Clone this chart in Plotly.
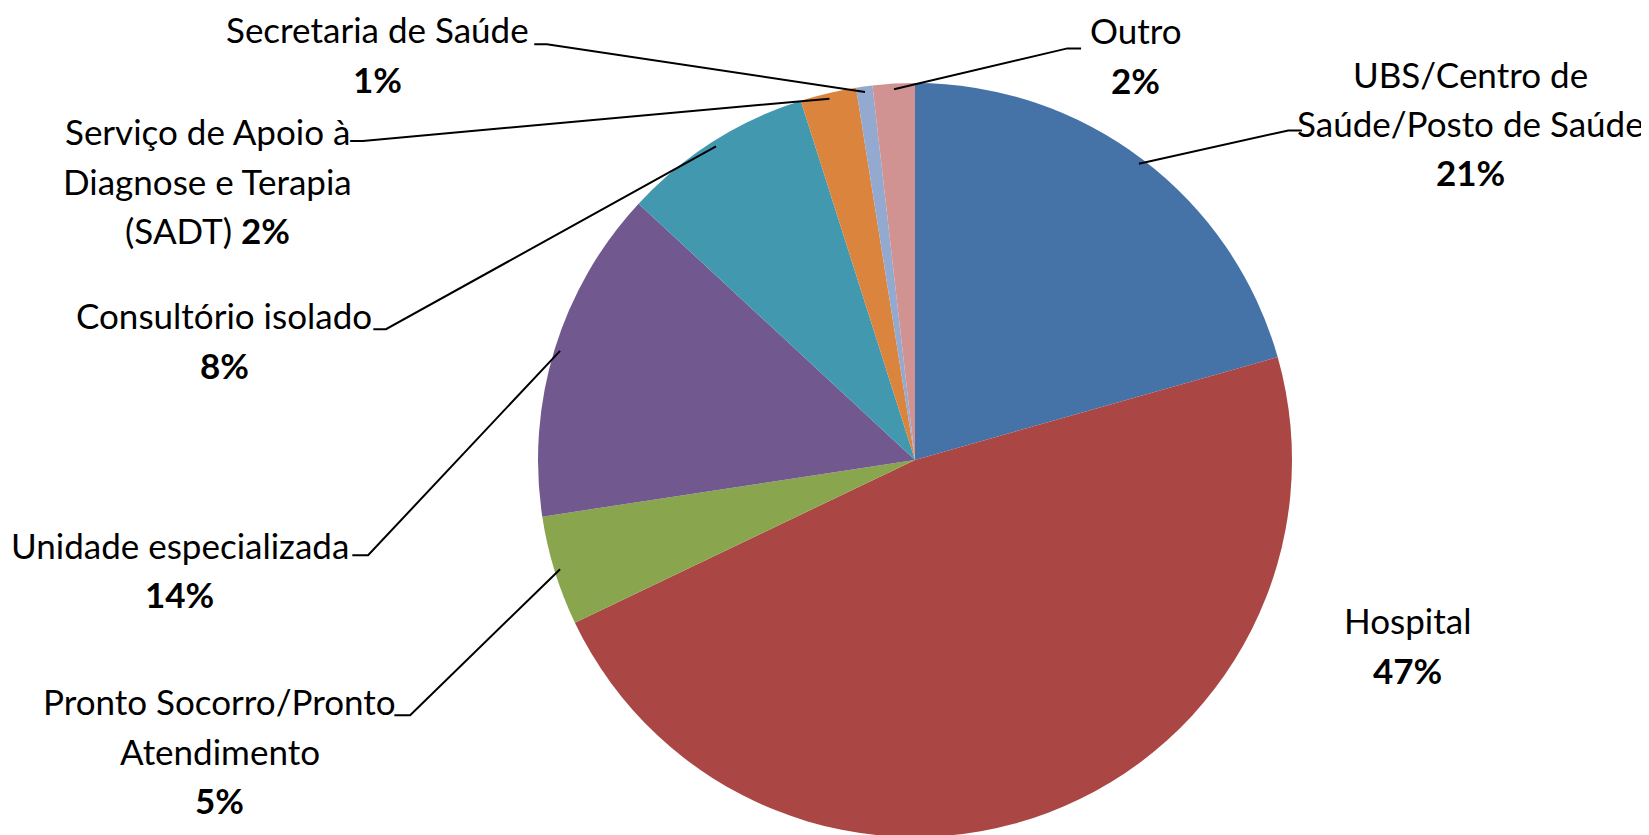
import math
import plotly.graph_objects as go

# ---- data ----
categories = [
    "UBS/Centro de Saúde/Posto de Saúde",
    "Hospital",
    "Pronto Socorro/Pronto Atendimento",
    "Unidade especializada",
    "Consultório isolado",
    "Serviço de Apoio à Diagnose e Terapia (SADT)",
    "Secretaria de Saúde",
    "Outro",
]
values = [20.6, 47.3, 4.7, 14.3, 8.2, 2.4, 0.7, 1.8]
label_lines = [
    ["UBS/Centro de", "Saúde/Posto de Saúde"],
    ["Hospital"],
    ["Pronto Socorro/Pronto", "Atendimento"],
    ["Unidade especializada"],
    ["Consultório isolado"],
    ["Serviço de Apoio à", "Diagnose e Terapia", "(SADT)"],
    ["Secretaria de Saúde"],
    ["Outro"],
]
colors = ["#4572A7", "#AA4644", "#89A54E", "#71588F", "#4198AF", "#DB843D", "#93A9CF", "#D19392"]

# ---- layout constants (screen pixels in a 1649x835 window) ----
W, H = 1649, 835
OFF = 8                      # page body margin
S = 1649 / 1568.0
CX, CY, R = 915, 460, 377
FONT = "Lato"
FS = 35

# label block: center x, y of first line (shrunk coords), pct inline?, leader stub (x_text_end, x_elbow, y)
label_pos = [
    dict(x=1398, y=70, inline=False, stub=(1238, 1225, 124)),
    dict(x=1338, y=590, inline=False, stub=None),
    dict(x=209, y=667, inline=False, stub=(375, 390, 680)),
    dict(x=171, y=518, inline=False, stub=(335, 350, 528)),
    dict(x=213, y=300, inline=False, stub=(355, 367, 313)),
    dict(x=197, y=125, inline=True, stub=(333, 345, 134)),
    dict(x=359, y=28, inline=False, stub=(508, 520, 42)),
    dict(x=1080, y=29, inline=False, stub=(1028, 1015, 46)),
]


def fx(x):
    return (x - OFF) / W


def fy(y):
    return 1 - (y - OFF) / H


fig = go.Figure(
    go.Pie(
        labels=categories,
        values=values,
        sort=False,
        direction="clockwise",
        rotation=0,
        textinfo="none",
        hoverinfo="label+percent",
        marker=dict(colors=colors, line=dict(width=0)),
        showlegend=False,
        domain=dict(x=[fx(CX - R), fx(CX + R)], y=[max(0, fy(CY + R)), fy(CY - R)]),
    )
)

total = sum(values)
annotations = []
shapes = []
cum = 0.0
for i, v in enumerate(values):
    mid = (cum + v / 2) / total
    cum += v
    pct = f"{round(v / total * 100)}%"
    pos = label_pos[i]
    lines = list(label_lines[i])
    if pos["inline"]:
        lines[-1] = lines[-1] + f" <b>{pct}</b>"
    else:
        lines.append(f"<b>{pct}</b>")
    for k, t in enumerate(lines):
        annotations.append(
            dict(
                x=fx(pos["x"] * S), y=fy((pos["y"] + k * 47) * S),
                xref="paper", yref="paper", text=t, showarrow=False,
                xanchor="center", yanchor="middle",
                font=dict(family=FONT, size=FS, color="#000000"),
            )
        )
    if pos["stub"] is not None:
        x0, x1, ys = pos["stub"]
        theta = 2 * math.pi * mid
        r = R * 0.985
        ex = CX + r * math.sin(theta)
        ey = CY - r * math.cos(theta)
        path = (f"M {fx(x0 * S)},{fy(ys * S)} L {fx(x1 * S)},{fy(ys * S)} "
                f"L {fx(ex)},{fy(ey)}")
        shapes.append(
            dict(type="path", xref="paper", yref="paper", path=path,
                 line=dict(color="#000000", width=2))
        )

fig.update_layout(
    width=W, height=H,
    margin=dict(l=0, r=0, t=0, b=0),
    paper_bgcolor="#FFFFFF", plot_bgcolor="#FFFFFF",
    annotations=annotations, shapes=shapes,
)

fig.write_html("out.html")
